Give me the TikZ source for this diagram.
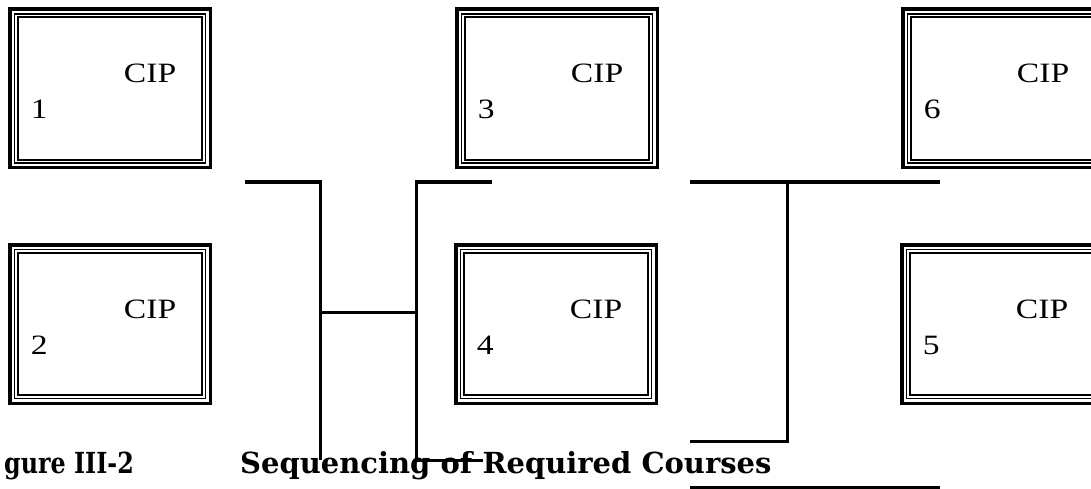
\documentclass[tikz,border=0pt]{standalone}
\usepackage{fontspec}
\setmainfont{Liberation Serif}
\newfontfamily\capfont{DejaVu Serif}
\newcommand{\labsz}{\fontsize{28}{30}\selectfont}
\newcommand{\capsz}{\fontsize{29}{31}\selectfont}
\newcommand{\wide}[1]{\scalebox{1.2}[1]{#1}}
\begin{document}
\begin{tikzpicture}[x=1pt,y=-1pt,
  cipbox/.style={draw,line width=3.5pt,minimum width=200.5pt,minimum height=158.5pt,inner sep=0pt,outer sep=0pt},
  midline/.style={line width=1.2pt},
  inline/.style={line width=1.8pt},
  lab/.style={anchor=base west,inner sep=0pt,font=\labsz},
  conn/.style={line width=3pt},
  captext/.style={inner sep=0pt,font=\capfont\bfseries\capsz}]
\useasboundingbox (0,0) rectangle (1091,489);
% boxes
\foreach \n/\cx/\cy/\num in {b1/110/88.5/1, b2/110/324/2, b3/557/88.5/3, b4/556/324/4, b6/1003/88.5/6, b5/1002/324/5}{
  \node[cipbox] (\n) at (\cx,\cy) {};
  \draw[midline] ([shift={(4.8pt,-4.8pt)}]\n.north west) rectangle ([shift={(-4.8pt,4.8pt)}]\n.south east);
  \draw[inline] ([shift={(8pt,-8pt)}]\n.north west) rectangle ([shift={(-8pt,8pt)}]\n.south east);
  \node[lab] (\n cip) at ([shift={(114pt,-73.5pt)}]\n.north west) {\wide{CIP}};
  \node[lab] (\n num) at ([shift={(21pt,-109.5pt)}]\n.north west) {\wide{\num}};
}
% connector coordinates
\coordinate (h1a) at (245,182);
\coordinate (j1) at (320,182);
\coordinate (j1b) at (320,460);
\coordinate (m1) at (320,312);
\coordinate (m2) at (416,312);
\coordinate (j2) at (416,182);
\coordinate (j2b) at (416,460);
\coordinate (h3b) at (492,182);
\coordinate (h4b) at (483,460);
\coordinate (h5a) at (690,182);
\coordinate (j3) at (787,182);
\coordinate (h5b) at (940,182);
\coordinate (j3b) at (787,441);
\coordinate (h6a) at (690,441);
\coordinate (h7a) at (690,487.5);
\coordinate (h7b) at (940,487.5);
% caption
\node[captext,anchor=base east] (figno) at (134,473) {\scalebox{0.82}[1]{gure III-2}};
\node[captext,anchor=base west] (title) at (240,473) {Sequencing of Required Courses};
% connectors
\draw[conn] (h1a) -- (j1) -- (j1b);
\draw[conn] (m1) -- (m2);
\draw[conn] (h3b) -- (j2) -- (j2b) -- (h4b);
\draw[conn] (h5a) -- (h5b);
\draw[conn] (j3) -- (j3b) -- (h6a);
\draw[conn] (h7a) -- (h7b);
\end{tikzpicture}
\end{document}
